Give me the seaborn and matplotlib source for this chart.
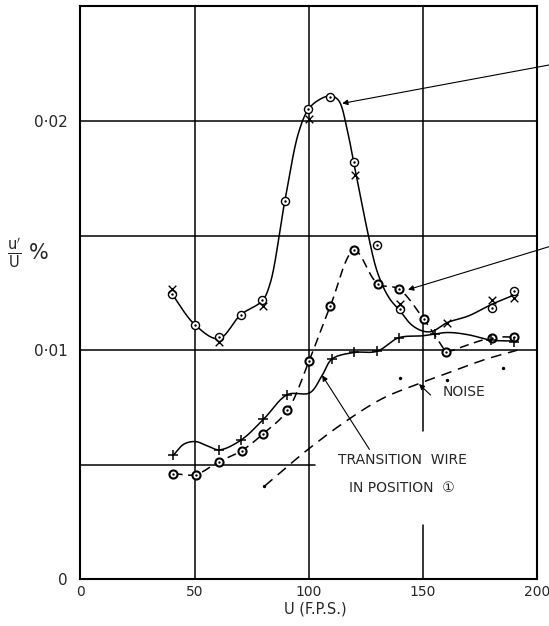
import numpy as np
import matplotlib
matplotlib.use("Agg")
import matplotlib.pyplot as plt
import seaborn as sns

# ---------------- data ----------------
# Curve A (solid line, circle-dot markers, run 1) and crosses (run 2)
a_line_u = [40, 50, 60.5, 70.2, 79.5, 83.0, 89.5, 95.5, 99.7, 104, 109.4, 113, 117,
            120, 125, 130, 135, 140, 145, 150, 154, 160.5, 170, 180, 189.7]
a_line_v = [0.01246, 0.01112, 0.0105, 0.01155, 0.01215, 0.0129, 0.01653, 0.0195, 0.0205,
            0.0209, 0.0211, 0.0209, 0.0195, 0.0180, 0.0155, 0.0134, 0.0123, 0.0117,
            0.0111, 0.01083, 0.01082, 0.0112, 0.0115, 0.0120, 0.0124]
a_pts_u = [40.2, 50, 60.5, 70.2, 79.5, 89.5, 99.7, 109.4, 119.9, 129.8, 140, 180.1, 189.7]
a_pts_v = [0.01246, 0.01112, 0.01057, 0.01155, 0.01217, 0.01653, 0.02051, 0.02107,
           0.01821, 0.0146, 0.01179, 0.01186, 0.0126]
ax_pts_u = [40, 60.5, 80, 100, 120, 140, 160.5, 180, 190]
ax_pts_v = [0.01267, 0.01034, 0.01193, 0.0201, 0.01766, 0.0120, 0.0112, 0.01219, 0.01229]

# Curve B (dashed line, circle markers)
b_u = [40.7, 50.4, 60.5, 70.5, 80.1, 90.6, 100.1, 109.4, 119.9, 130.1, 139.3, 150.2,
       160.1, 180.1, 189.7]
b_v = [0.00461, 0.00457, 0.00513, 0.00561, 0.00636, 0.00737, 0.00954, 0.01193, 0.01435,
       0.0129, 0.01267, 0.01136, 0.0099, 0.01054, 0.01058]

# Curve C (solid line, plus markers) - transition wire in position 1
c_line_u = [40.7, 45.3, 50.4, 55.6, 60.8, 70.2, 80.1, 90.6, 100.4, 105.8, 110.2, 119.9,
            129.8, 139.3, 150, 160.6, 169.4, 179.8, 190]
c_line_v = [0.00542, 0.0059, 0.00601, 0.00582, 0.00565, 0.00607, 0.00698, 0.00806, 0.00814,
            0.0089, 0.00962, 0.0099, 0.00995, 0.01054, 0.01063, 0.01077, 0.01068, 0.01044,
            0.0104]
c_pts_u = [40.7, 60.8, 70.2, 80.1, 90.6, 110.2, 119.9, 129.8, 139.3, 155, 179.8, 190]
c_pts_v = [0.00542, 0.00565, 0.00607, 0.00698, 0.00806, 0.00962, 0.0099, 0.00995, 0.01054,
           0.01072, 0.01044, 0.01037]

# Noise (dashed line, small dots)
n_line_u = [80.5, 100, 118.4, 132.8, 148.2, 162.1, 176.7, 191.3]
n_line_v = [0.00406, 0.0057, 0.00705, 0.00792, 0.00854, 0.00905, 0.00958, 0.0100]
n_pts_u = [80.5, 140, 160.6, 185]
n_pts_v = [0.00406, 0.0088, 0.0087, 0.0092]

x_ticks = [0, 50, 100, 150, 200]
x_tick_labels = ["0", "50", "100", "150", "200"]
y_ticks = [0, 0.01, 0.02]
y_tick_labels = ["0", "0·01", "0·02"]

# ---------------- helpers ----------------
SX, SY = 457 / 200, 573 / 0.025


def smooth_path(us, vs, n=24):
    """Centripetal Catmull-Rom curve through the given knots (drawing only)."""
    P = np.column_stack([np.asarray(us, float) * SX, np.asarray(vs, float) * SY])
    P = np.vstack([2 * P[0] - P[1], P, 2 * P[-1] - P[-2]])
    segs = []
    for i in range(1, len(P) - 2):
        p0, p1, p2, p3 = P[i - 1], P[i], P[i + 1], P[i + 2]
        t0 = 0.0
        t1 = t0 + np.hypot(*(p1 - p0)) ** 0.5
        t2 = t1 + np.hypot(*(p2 - p1)) ** 0.5
        t3 = t2 + np.hypot(*(p3 - p2)) ** 0.5
        t = np.linspace(t1, t2, n)[:, None]
        A1 = (t1 - t) / (t1 - t0) * p0 + (t - t0) / (t1 - t0) * p1
        A2 = (t2 - t) / (t2 - t1) * p1 + (t - t1) / (t2 - t1) * p2
        A3 = (t3 - t) / (t3 - t2) * p2 + (t - t2) / (t3 - t2) * p3
        B1 = (t2 - t) / (t2 - t0) * A1 + (t - t0) / (t2 - t0) * A2
        B2 = (t3 - t) / (t3 - t1) * A2 + (t - t1) / (t3 - t1) * A3
        C = (t2 - t) / (t2 - t1) * B1 + (t - t1) / (t2 - t1) * B2
        segs.append(C if i == 1 else C[1:])
    C = np.vstack(segs)
    return C[:, 0] / SX, C[:, 1] / SY


def curve(ax, us, vs, **kw):
    xs, ys = smooth_path(us, vs)
    sns.lineplot(x=xs, y=ys, sort=False, estimator=None, ax=ax, color="black", **kw)


def odot(ax, us, vs, s=34, lw=1.0):
    sns.scatterplot(x=us, y=vs, ax=ax, marker="o", s=s, facecolor="white",
                    edgecolor="black", linewidth=lw, zorder=5)
    sns.scatterplot(x=us, y=vs, ax=ax, marker="o", s=3, color="black",
                    linewidth=0, zorder=6)


# ---------------- figure ----------------
sns.set_style("white")
plt.rcParams["font.family"] = ["DejaVu Sans", "Noto Sans CJK SC"]
plt.rcParams["mathtext.fontset"] = "dejavusans"

fig = plt.figure(figsize=(5.49, 6.26), dpi=100)
ax = fig.add_axes([0.1466, 0.0746, 0.8321, 0.9158])
ax.set_xlim(0, 200)
ax.set_ylim(0, 0.02502)

for s in ax.spines.values():
    s.set_color("black")
    s.set_linewidth(1.5)

# grid (hand drawn, with gaps)
gkw = dict(color="black", lw=1.1, zorder=1)
ax.axvline(50, **gkw)
ax.axvline(100, **gkw)
ax.plot([150, 150], [0, 0.00235], **gkw)
ax.plot([150, 150], [0.00647, 0.02502], **gkw)
ax.axhline(0.01, **gkw)
ax.axhline(0.015, **gkw)
ax.axhline(0.02, **gkw)
ax.plot([0, 102.6], [0.005, 0.005], **gkw)

# curves
curve(ax, a_line_u, a_line_v, lw=1.1, zorder=3)
curve(ax, b_u[:13], b_v[:13], lw=1.1, linestyle=(0, (6, 3.6)), zorder=3)
curve(ax, b_u[12:], b_v[12:], lw=1.1, linestyle=(0, (6, 3.6)), zorder=3)
curve(ax, c_line_u, c_line_v, lw=1.1, zorder=3)
curve(ax, n_line_u, n_line_v, lw=1.1, linestyle=(0, (7, 4.5)), zorder=3)

# markers
odot(ax, a_pts_u, a_pts_v)
sns.scatterplot(x=ax_pts_u, y=ax_pts_v, ax=ax, marker="x", s=30, color="black",
                linewidth=1.0, zorder=6)
odot(ax, b_u, b_v, lw=1.5)
sns.scatterplot(x=c_pts_u, y=c_pts_v, ax=ax, marker="+", s=60, color="black",
                linewidth=1.1, zorder=6)
sns.scatterplot(x=n_pts_u, y=n_pts_v, ax=ax, marker="o", s=6, color="black",
                linewidth=0, zorder=6)

# annotations
akw = dict(arrowstyle="-|>", color="black", lw=0.8, mutation_scale=8,
           shrinkA=0, shrinkB=0)
ax.annotate("", xy=(114.6, 0.02077), xytext=(1.0, 1 - 65 / 626),
            textcoords="figure fraction", arrowprops=akw, annotation_clip=False)
ax.annotate("", xy=(143.4, 0.01264), xytext=(1.0, 1 - 246.7 / 626),
            textcoords="figure fraction", arrowprops=akw, annotation_clip=False)
ax.annotate("", xy=(148.2, 0.00852), xytext=(153.3, 0.00804), arrowprops=akw)
ax.text(158.6, 0.00818, "NOISE", fontsize=10, ha="left", va="center")
ax.annotate("", xy=(105.8, 0.0089), xytext=(126.5, 0.00567), arrowprops=akw)
ax.text(140.8, 0.0052, "TRANSITION  WIRE", fontsize=10, ha="center", va="center")
ax.text(140.8, 0.00399, "IN POSITION  ①", fontsize=10, ha="center", va="center")

# ticks and labels
ax.set_xticks(x_ticks)
ax.set_xticklabels(x_tick_labels, fontsize=10)
ax.set_yticks(y_ticks)
ax.set_yticklabels(y_tick_labels, fontsize=11)
ax.tick_params(axis="both", length=0)
ax.tick_params(axis="y", pad=9)
ax.tick_params(axis="x", pad=4)
ax.set_xlabel("U (F.P.S.)", fontsize=10.5)
ax.xaxis.set_label_coords(0.515, -0.038)
ax.set_ylabel("")
fig.text(28 / 549, 1 - 253 / 626, r"$\frac{\mathrm{u'}}{\mathrm{U}}$ %", fontsize=15,
         ha="center", va="center")

fig.savefig("out.png", dpi=100)
